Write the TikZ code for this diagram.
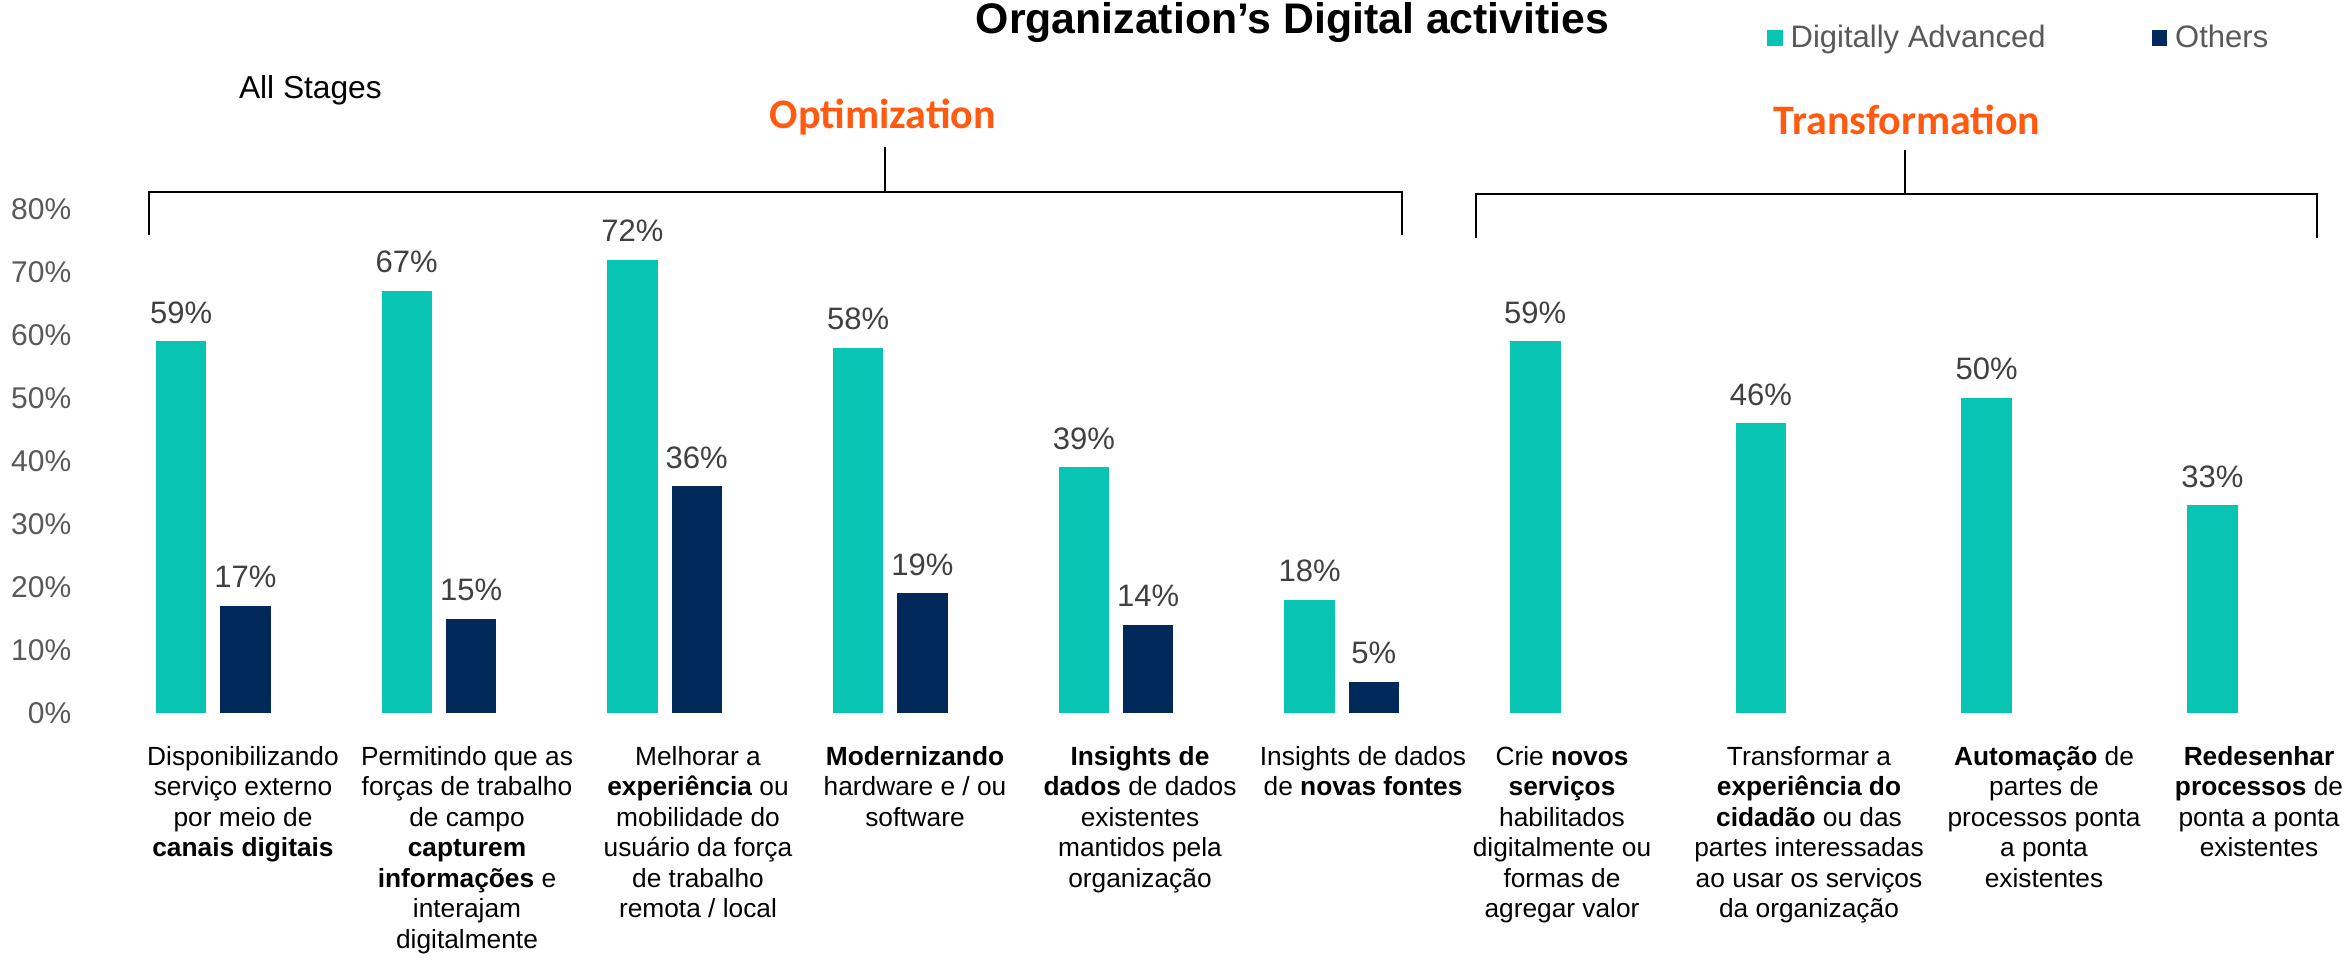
\documentclass[tikz,border=0pt]{standalone}
\usepackage{fontspec}
\setmainfont{Liberation Sans}
\newfontfamily\calib{Carlito}
\definecolor{teal1}{HTML}{08C4B2}
\definecolor{navy1}{HTML}{01295A}
\definecolor{orng}{HTML}{FF5A0F}
\definecolor{gry}{HTML}{595959}
\definecolor{dgry}{HTML}{404040}
\begin{document}
\begin{tikzpicture}[x=1bp,y=-1bp,
 tealbar/.style={fill=teal1, draw=none, inner sep=0pt, minimum width=50.5bp, anchor=south west},
 navybar/.style={fill=navy1, draw=none, inner sep=0pt, minimum width=50.5bp, anchor=south west},
 val/.style={text=dgry, font=\fontsize{31bp}{36bp}\selectfont, inner sep=0pt, anchor=base},
 axislbl/.style={text=gry, font=\fontsize{30bp}{36bp}\selectfont, inner sep=0pt, anchor=east},
 cat/.style={align=center, font=\fontsize{26.3bp}{30.5bp}\selectfont, inner sep=0pt, anchor=north},
 grp/.style={text=orng, font=\calib\bfseries\fontsize{42bp}{48bp}\selectfont, inner sep=0pt, anchor=base},
 brk/.style={line width=2bp, black},
 leg/.style={text=gry, font=\fontsize{31bp}{36bp}\selectfont, inner sep=0pt, anchor=base west},
 legsq/.style={minimum size=15.7bp, inner sep=0pt, anchor=north west, draw=none},
]
\fill[white] (0,0) rectangle (2346,961);
\useasboundingbox (0,0) rectangle (2346,961);

% title and headings
\node[anchor=base, font=\bfseries\fontsize{42.8bp}{50bp}\selectfont, inner sep=0pt] (title) at (1292.5,33.3) {Organization’s Digital activities};
\node[anchor=base west, font=\fontsize{31.7bp}{38bp}\selectfont, inner sep=0pt] (stages) at (238.8,98.3) {All Stages};
\node[grp] (opt) at (883,128.3) {Optimization};
\node[grp] (trf) at (1907,134) {Transformation};

% legend
\node[legsq, fill=teal1] (legA) at (1766.7,30) {};
\node[leg] (legAt) at (1790.5,47.7) {Digitally Advanced};
\node[legsq, fill=navy1] (legB) at (2151.4,30) {};
\node[leg] (legBt) at (2175,47.7) {Others};

% brackets
\coordinate (o1) at (149,235);
\coordinate (o2) at (149,192);
\coordinate (o3) at (1402,192);
\coordinate (o4) at (1402,235);
\coordinate (om) at (884.7,192);
\coordinate (ot) at (884.7,146.7);
\draw[brk] (o1) -- (o2) -- (o3) -- (o4);
\draw[brk] (om) -- (ot);
\coordinate (p1) at (1475.5,238);
\coordinate (p2) at (1475.5,194);
\coordinate (p3) at (2316.7,194);
\coordinate (p4) at (2316.7,238);
\coordinate (pm) at (1904.8,194);
\coordinate (pt) at (1904.8,150);
\draw[brk] (p1) -- (p2) -- (p3) -- (p4);
\draw[brk] (pm) -- (pt);

% axis labels
\foreach \k in {0,...,8}{
  \node[axislbl] (ax\k) at (71.4,{713.3-63*\k}) {\the\numexpr\k*10\relax\%};
}

% bars
\foreach \i/\a in {0/59,1/67,2/72,3/58,4/39,5/18,6/59,7/46,8/50,9/33}{
  \node[tealbar, minimum height={\a*6.3bp}] (t\i) at ({155.6+225.7*\i},713.3) {};
  \node[val] (vt\i) at ([yshift=18bp]t\i.north) {\a\%};
}
\foreach \i/\a in {0/17,1/15,2/36,3/19,4/14,5/5}{
  \node[navybar, minimum height={\a*6.3bp}] (n\i) at ({219.9+225.7*\i},713.3) {};
  \node[val] (vn\i) at ([yshift=18bp]n\i.north) {\a\%};
}

% category labels (first baseline at y = 765)
\node[cat] (c0) at (243,743.65) {\strut Disponibilizando\\serviço externo\\por meio de\\\textbf{canais digitais}};
\node[cat] (c1) at (467,743.65) {\strut Permitindo que as\\forças de trabalho\\de campo\\\textbf{capturem}\\\textbf{informações} e\\interajam\\digitalmente};
\node[cat] (c2) at (698,743.65) {\strut Melhorar a\\\textbf{experiência} ou\\mobilidade do\\usuário da força\\de trabalho\\remota / local};
\node[cat] (c3) at (915,743.65) {\strut\textbf{Modernizando}\\hardware e / ou\\software};
\node[cat] (c4) at (1140,743.65) {\strut\textbf{Insights de}\\\textbf{dados} de dados\\existentes\\mantidos pela\\organização};
\node[cat] (c5) at (1363,743.65) {\strut Insights de dados\\de \textbf{novas fontes}};
\node[cat] (c6) at (1562,743.65) {\strut Crie \textbf{novos}\\\textbf{serviços}\\habilitados\\digitalmente ou\\formas de\\agregar valor};
\node[cat] (c7) at (1809,743.65) {\strut Transformar a\\\textbf{experiência do}\\\textbf{cidadão} ou das\\partes interessadas\\ao usar os serviços\\da organização};
\node[cat] (c8) at (2044,743.65) {\strut\textbf{Automação} de\\partes de\\processos ponta\\a ponta\\existentes};
\node[cat] (c9) at (2259,743.65) {\strut\textbf{Redesenhar}\\\textbf{processos} de\\ponta a ponta\\existentes};
\end{tikzpicture}
\end{document}
